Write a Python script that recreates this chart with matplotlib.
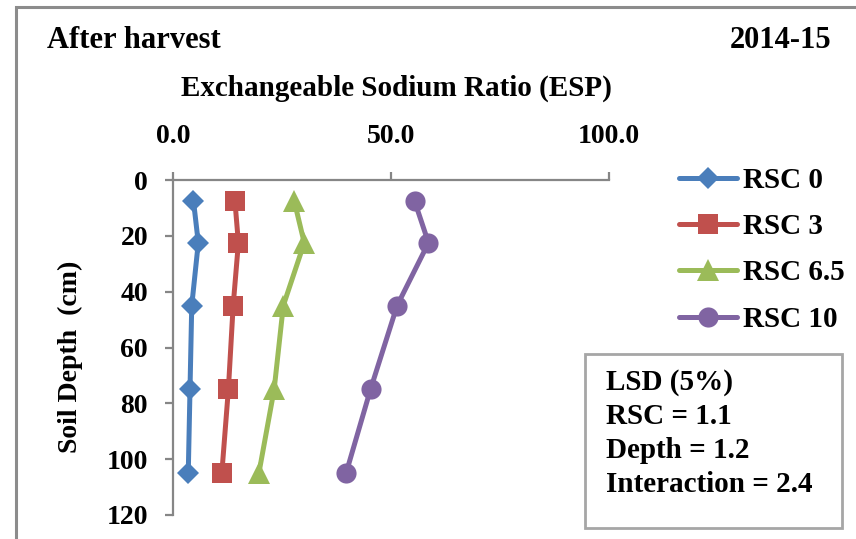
import matplotlib
matplotlib.use("Agg")
import matplotlib.pyplot as plt
from matplotlib.patches import Rectangle

plt.rcParams['font.family'] = ['Liberation Serif', 'DejaVu Serif']
plt.rcParams['font.weight'] = 'bold'

depth = [7.5, 22.5, 45, 75, 105]
series_names = ["RSC 0", "RSC 3", "RSC 6.5", "RSC 10"]
rsc0 = [4.7, 5.8, 4.3, 3.9, 3.5]
rsc3 = [14.2, 15.0, 13.8, 12.7, 11.2]
rsc65 = [27.8, 30.1, 25.3, 23.2, 19.7]
rsc10 = [55.4, 58.6, 51.4, 45.3, 39.7]
x_ticks = [0, 50, 100]
x_ticklabels = ["0.0", "50.0", "100.0"]
y_ticks = [0, 20, 40, 60, 80, 100, 120]
lsd_lines = ["LSD (5%)", "RSC = 1.1", "Depth = 1.2", "Interaction = 2.4"]

W, H = 856, 539
fig = plt.figure(figsize=(W / 100, H / 100), dpi=100)
fig.patch.set_facecolor('white')

# outer frame
fig.add_artist(Rectangle((16 / W, -0.05), 1.1, 1 - 7 / H + 0.05, transform=fig.transFigure,
                         fill=False, edgecolor='#8c8c8c', linewidth=2.2))

ax = fig.add_axes([173 / W, 1 - 515 / H, (609 - 173) / W, (515 - 180) / H])
ax.set_facecolor('none')

styles = [
    (rsc0, '#4A7EBB', 'D', 11),
    (rsc3, '#C0504D', 's', 14),
    (rsc65, '#9BBB59', '^', 16),
    (rsc10, '#8064A2', 'o', 14.5),
]
for name, (vals, col, mk, ms) in zip(series_names, styles):
    ax.plot(vals, depth, color=col, marker=mk, markersize=ms, linewidth=3.6,
            markeredgewidth=0, label=name, solid_capstyle='round', clip_on=False)

ax.set_xlim(0, 100)
ax.set_ylim(120, 0)
ax.xaxis.tick_top()
ax.set_xticks(x_ticks)
ax.set_xticklabels(x_ticklabels)
ax.set_yticks(y_ticks)
for s in ['right', 'bottom']:
    ax.spines[s].set_visible(False)
for s in ['left', 'top']:
    ax.spines[s].set_color('#868686')
    ax.spines[s].set_linewidth(1.6)
ax.tick_params(axis='x', direction='out', length=6, width=1.6, color='#868686',
               pad=16, labelsize=20, top=True, bottom=False)
ax.tick_params(axis='y', direction='out', length=6, width=1.6, color='#868686',
               pad=12, labelsize=20)
for lab in ax.get_xticklabels() + ax.get_yticklabels():
    lab.set_fontweight('bold')

fig.text(47 / W, 1 - 40 / H, "After harvest", fontsize=22, fontweight='bold',
         ha='left', va='center')
fig.text(831 / W, 1 - 40 / H, "2014-15", fontsize=22, fontweight='bold',
         ha='right', va='center')
fig.text(396 / W, 1 - 88 / H, "Exchangeable Sodium Ratio (ESP)", fontsize=21,
         fontweight='bold', ha='center', va='center')
fig.text(70 / W, 1 - 357 / H, "Soil Depth  (cm)", fontsize=20, fontweight='bold',
         ha='center', va='center', rotation=90)

leg = fig.legend(loc='upper left', bbox_to_anchor=(679 / W, 1 - 167 / H),
                 frameon=False, fontsize=21, handlelength=2.0, handletextpad=0.2,
                 labelspacing=0.66, borderaxespad=0, borderpad=0)
for t in leg.get_texts():
    t.set_fontweight('bold')

# LSD box
fig.add_artist(Rectangle((585 / W, 1 - 528 / H), (842 - 585) / W, (528 - 354) / H,
                         transform=fig.transFigure, fill=False, edgecolor='#a6a6a6',
                         linewidth=2))
for i, line in enumerate(lsd_lines):
    fig.text(606 / W, 1 - (383 + 34 * i) / H, line, fontsize=21, fontweight='bold',
             ha='left', va='center')

fig.savefig("out.png", dpi=100)
